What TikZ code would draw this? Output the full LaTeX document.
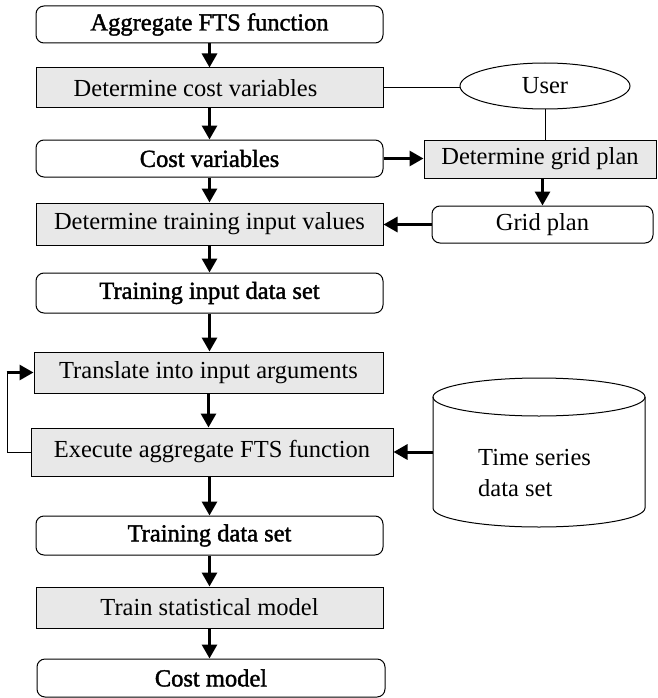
\documentclass[tikz,border=0pt]{standalone}
\usepackage{fontspec}
\setmainfont{Liberation Serif}
\newfontfamily\heavyfont[FakeBold=1.6]{Liberation Serif}
\usepackage{tikz}
\usetikzlibrary{positioning, arrows.meta, shapes.geometric, calc}

\begin{document}
\begin{tikzpicture}[x=1pt, y=-1pt,
    font=\fontsize{24.5}{31}\selectfont,
    rbox/.style={draw, line width=1pt, rounded corners=8pt, minimum width=347pt, inner sep=0pt, font=\fontsize{24.5}{31}\selectfont\heavyfont},
    gbox/.style={draw, line width=1pt, fill=gray!18, minimum width=347pt, inner sep=0pt},
    arr/.style={line width=3pt, -{Triangle[length=14pt, width=15pt]}},
    thinline/.style={line width=1pt}]
  \useasboundingbox (0,0) rectangle (657,698);
  % Hauptspalte
  \node[rbox, minimum height=37pt] (agg) at (209.5,24.5) {Aggregate FTS function};
  \node[gbox, minimum height=40pt] (detcost) at (209.5,88) {\hspace*{-28pt}Determine cost variables};
  \node[rbox, minimum height=37pt] (costvar) at (209.5,158.5) {Cost variables};
  \node[gbox, minimum height=42pt] (dettrain) at (209.5,224) {Determine training input values};
  \node[rbox, minimum height=40pt] (tids) at (209.5,293) {Training input data set};
  \node[gbox, minimum width=349pt, minimum height=41pt] (transl) at (208.5,372.5) {Translate into input arguments};
  \node[gbox, minimum width=362pt, minimum height=48pt] (exec) at (212,452) {Execute aggregate FTS function};
  \node[rbox, minimum height=39pt] (tds) at (209.5,535.5) {Training data set};
  \node[gbox, minimum height=41pt] (trainm) at (209.5,607.5) {Train statistical model};
  \node[rbox, minimum width=348pt, minimum height=38pt] (costm) at (211,678) {Cost model};
  % rechte Spalte
  \node[ellipse, draw, line width=1pt, minimum width=170pt, minimum height=46pt, inner sep=0pt] (user) at (545,86) {User};
  \node[gbox, minimum width=232pt, minimum height=38pt] (detgrid) at (540,159) {Determine grid plan};
  \node[rbox, minimum width=221pt, minimum height=37pt, font=\fontsize{24.5}{31}\selectfont] (grid) at (542.5,224.5) {Grid plan};
  % Datenbank (Zylinder)
  \draw[thinline] (539,397) ellipse [x radius=106, y radius=19];
  \draw[thinline] (433,397) -- (433,508) arc [start angle=180, end angle=0, x radius=106, y radius=19] -- (645,397);
  \node[anchor=north west, align=left, inner sep=0pt] (dbtext) at (478,449) {Time series\\data set};
  \coordinate (dbw) at (433,452);
  % Pfeile
  \draw[arr] (agg.south) -- (detcost.north);
  \draw[arr] (detcost.south) -- (costvar.north);
  \draw[arr] (costvar.south) -- (dettrain.north);
  \draw[arr] (dettrain.south) -- (tids.north);
  \draw[arr] (tids.south) -- (tids.south |- transl.north);
  \draw[arr] (transl.south) -- (transl.south |- exec.north);
  \draw[arr] (tds.north |- exec.south) -- (tds.north);
  \draw[arr] (tds.south) -- (trainm.north);
  \draw[arr] (trainm.south) -- (trainm.south |- costm.north);
  \draw[arr] (costvar.east) -- (costvar.east -| detgrid.west);
  \draw[arr] (grid.north |- detgrid.south) -- (grid.north);
  \draw[arr] (grid.west) -- (grid.west -| dettrain.east);
  \draw[arr] (dbw) -- (dbw -| exec.east);
  \draw[thinline] (detcost.east) -- (detcost.east -| user.west);
  \draw[thinline] (user.south) -- (user.south |- detgrid.north);
  % Schleife
  \coordinate (loopc) at (7,372.5);
  \draw[thinline] (exec.west) -- (exec.west -| loopc) -- (loopc);
  \draw[arr] ([xshift=-0.5pt]loopc) -- (transl.west);
\end{tikzpicture}
\end{document}
